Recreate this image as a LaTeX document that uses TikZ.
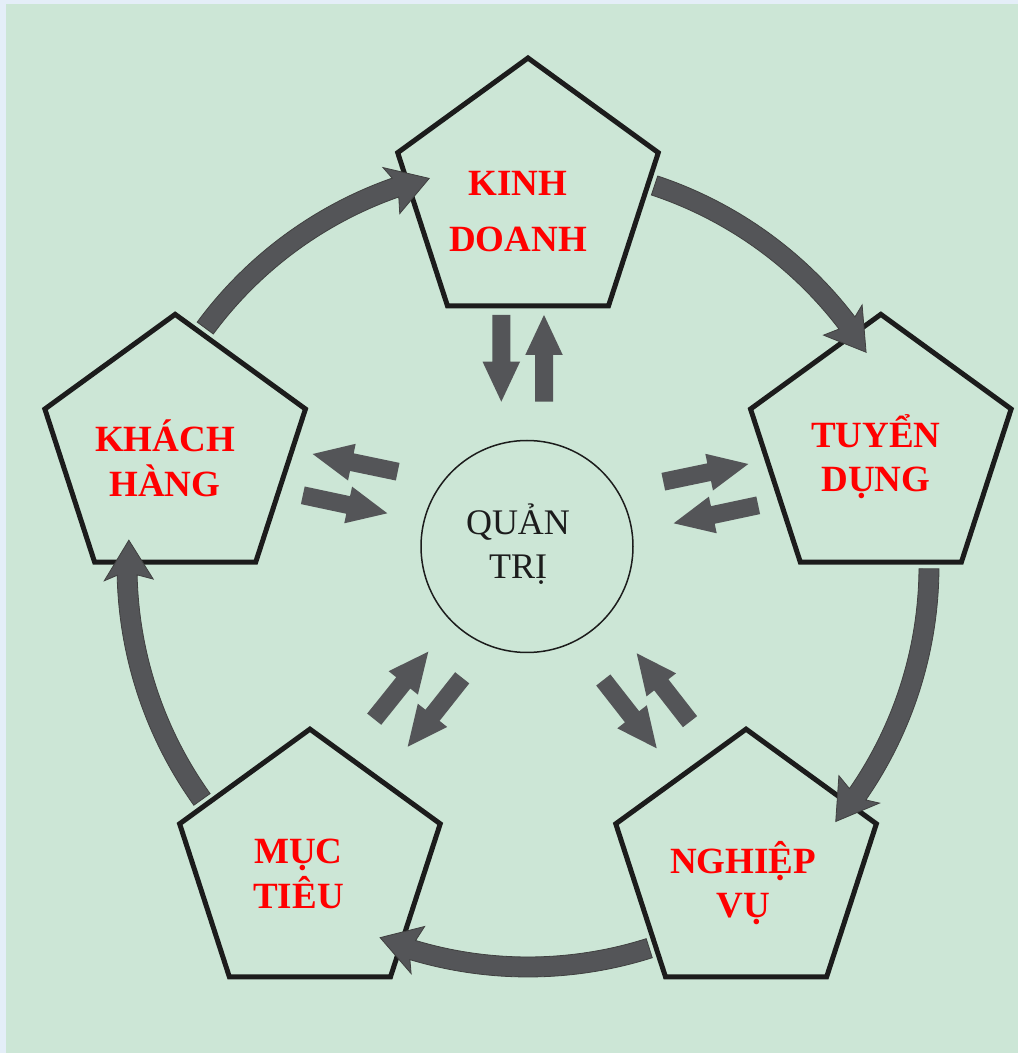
\documentclass[tikz,border=0pt]{standalone}
\usepackage{fontspec}
\setmainfont{Liberation Serif}
\usetikzlibrary{shapes.geometric,calc}

\definecolor{bggreen}{RGB}{204,230,214}
\definecolor{rimblue}{RGB}{228,238,248}
\definecolor{arrowgrey}{RGB}{84,85,88}
\definecolor{inkblack}{RGB}{28,28,28}

\tikzset{
	pent/.style={regular polygon, regular polygon sides=5, minimum size=274pt,
		inner sep=0pt, draw=inkblack, line width=5pt},
	lbl/.style={anchor=base, inner sep=0pt, text=red,
		font=\bfseries\fontsize{37}{44}\selectfont},
	bigarrow/.style={fill=arrowgrey, draw=black!75, line width=.8pt},
}

% straight arrow: tail, tip, name for the base of its head
\newcommand{\flowarrow}[3]{%
	\coordinate (#3) at ($(#2)!40pt!(#1)$);
	\fill[arrowgrey] ($(#1)!9pt!90:(#2)$) -- ($(#3)!9pt!90:(#2)$)
		-- ($(#3)!18.75pt!90:(#2)$) -- (#2) -- ($(#3)!18.75pt!-90:(#2)$)
		-- ($(#3)!9pt!-90:(#2)$) -- ($(#1)!9pt!-90:(#2)$) -- cycle;
}

\begin{document}
\begin{tikzpicture}[x=1pt,y=1pt]
	\useasboundingbox (0,0) rectangle (1018,1053);
	\fill[rimblue] (0,0) rectangle (1018,1053);
	\fill[bggreen] (6,0) rectangle (1018,1049);

	\begin{scope}[shift={(528,487)}]
		\node[pent] (kd) at (90:371) {};
		\node[pent] (td) at (18:371) {};
		\node[pent] (nv) at (-54:371) {};
		\node[pent] (mt) at (-126:371) {};
		\node[pent] (kh) at (162:371) {};
		% the ring of big arrows, clockwise
		\foreach \a in {162,90,18,-54,-126} {
			\filldraw[bigarrow] ({\a-18.4}:391) arc[start angle={\a-18.4}, end angle={\a-52.7}, radius=391]
				-- ({\a-52}:375) -- ({\a-57.7}:400) -- ({\a-52}:424)
				-- ({\a-52.7}:411) arc[start angle={\a-52.7}, end angle={\a-18.4}, radius=411] -- cycle;
		}
	\end{scope}

	\node[draw=inkblack, circle, line width=1.5pt, minimum size=212pt, inner sep=0pt] (qt) at (527,506.5) {};
	\node[anchor=base, inner sep=0pt, text=inkblack, font=\fontsize{36}{44}\selectfont] (qttext)
		at ([xshift=-9pt,yshift=11.5pt]qt.center) {\begin{tabular}[t]{@{}c@{}}QUẢN\\TRỊ\end{tabular}};

	\node[lbl] (kdtext) at ([xshift=-10pt,yshift=-1pt]kd.center) {\begin{tabular}[t]{@{}c@{}}KINH\\[12pt]DOANH\end{tabular}};
	\node[lbl] (tdtext) at ([xshift=-5pt,yshift=3.7pt]td.center) {\begin{tabular}[t]{@{}c@{}}TUYỂN\\DỤNG\end{tabular}};
	\node[lbl] (nvtext) at ([xshift=-3pt,yshift=-7.2pt]nv.center) {\begin{tabular}[t]{@{}c@{}}NGHIỆP\\VỤ\end{tabular}};
	\node[lbl] (mttext) at ([xshift=-11.4pt,yshift=2.8pt]mt.center) {\begin{tabular}[t]{@{}c@{}}MỤC\\TIÊU\end{tabular}};
	\node[lbl] (khtext) at ([xshift=-10.2pt,yshift=-0.3pt]kh.center) {\begin{tabular}[t]{@{}c@{}}KHÁCH\\HÀNG\end{tabular}};

	% paired arrows between QUẢN TRỊ and each box
	\flowarrow{501.3,738}{501.3,651.3}{kdin}
	\flowarrow{544,651.3}{544,738}{kdout}
	\flowarrow{663.3,571.3}{748.3,589}{tdout}
	\flowarrow{758.2,547.7}{673.7,529.7}{tdin}
	\flowarrow{603.3,373}{656.7,304.7}{nvout}
	\flowarrow{690,331.3}{636.7,399.7}{nvin}
	\flowarrow{374.2,333.8}{428.3,401.3}{mtin}
	\flowarrow{462.2,375.2}{407.7,306.3}{mtout}
	\flowarrow{397.7,581.3}{312.7,599}{khout}
	\flowarrow{302.8,557.7}{387.3,539.7}{khin}
\end{tikzpicture}
\end{document}
